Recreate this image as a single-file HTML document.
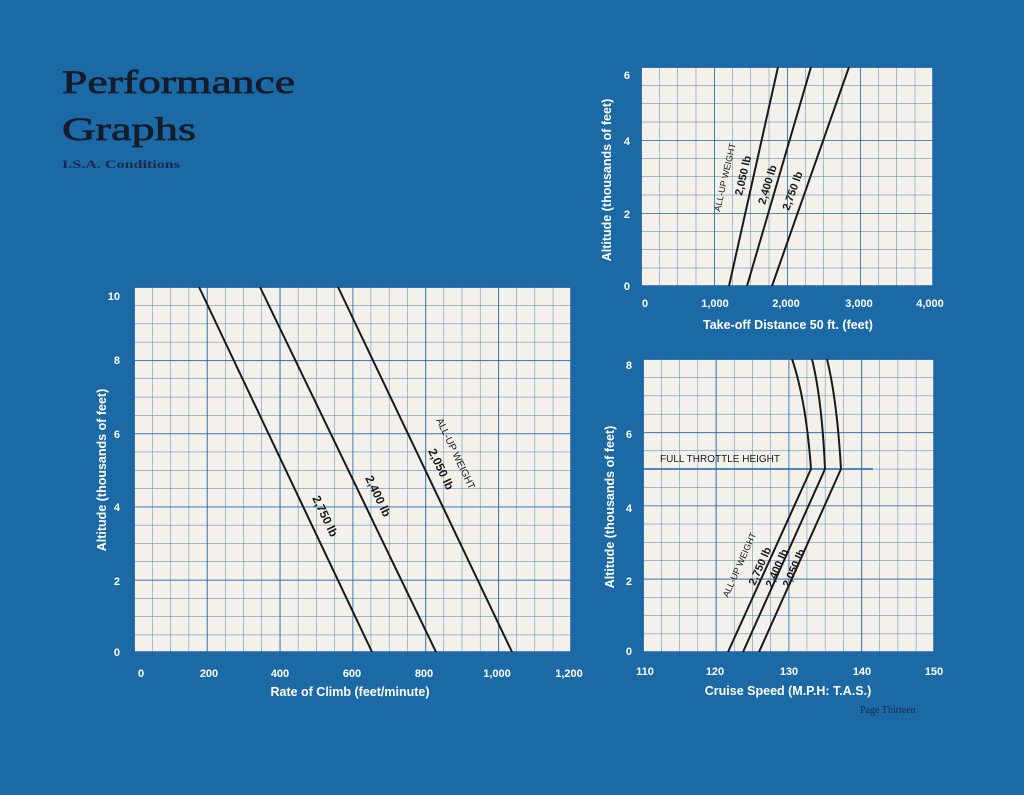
<!DOCTYPE html>
<html><head><meta charset="utf-8"><style>
html,body{margin:0;padding:0;background:#1b6aa6;}
svg{display:block}
</style></head><body>
<svg width="1024" height="795" viewBox="0 0 1024 795" xmlns="http://www.w3.org/2000/svg">
<defs>
<pattern id="mA" x="134" y="287" width="18.208" height="18.3" patternUnits="userSpaceOnUse"><path d="M0 0V18.3M0 0H18.208" stroke="#3d7fbc" stroke-width="0.9" fill="none"/></pattern>
<pattern id="MA" x="134" y="287" width="72.83" height="73.2" patternUnits="userSpaceOnUse"><path d="M0 0V73.2M0 0H72.83" stroke="#1e64a8" stroke-width="1.6" fill="none"/></pattern>
<pattern id="mB" x="641" y="67" width="18.25" height="18.25" patternUnits="userSpaceOnUse"><path d="M0 0V18.25M0 0H18.25" stroke="#3d7fbc" stroke-width="0.9" fill="none"/></pattern>
<pattern id="MB" x="641" y="67" width="73" height="73" patternUnits="userSpaceOnUse"><path d="M0 0V73M0 0H73" stroke="#1e64a8" stroke-width="1.6" fill="none"/></pattern>
<pattern id="mC" x="643" y="359" width="18.19" height="18.31" patternUnits="userSpaceOnUse"><path d="M0 0V18.31M0 0H18.19" stroke="#3d7fbc" stroke-width="0.9" fill="none"/></pattern>
<pattern id="MC" x="643" y="359" width="72.75" height="73.25" patternUnits="userSpaceOnUse"><path d="M0 0V73.25M0 0H72.75" stroke="#1e64a8" stroke-width="1.6" fill="none"/></pattern>
</defs>
<rect width="1024" height="795" fill="#1b6aa6"/>
<!-- Title -->
<g font-family="Liberation Serif, serif" fill="#141c2c" stroke="#141c2c" stroke-width="0.7">
<text x="62" y="93" font-size="33" textLength="233" lengthAdjust="spacingAndGlyphs">Performance</text>
<text x="62" y="140" font-size="33" textLength="134" lengthAdjust="spacingAndGlyphs">Graphs</text>
<text x="62" y="168" font-size="12" fill="#1b2a4a" stroke="none" font-weight="bold" textLength="118" lengthAdjust="spacingAndGlyphs">I.S.A.  Conditions</text>
</g>

<!-- Left graph -->
<rect x="134" y="287" width="437" height="365" fill="#f4f0ea"/>
<rect x="134" y="287" width="437" height="365" fill="url(#mA)"/>
<rect x="134" y="287" width="437" height="365" fill="url(#MA)"/>
<rect x="134" y="287" width="437" height="365" fill="none" stroke="#1e64a8" stroke-width="1.5"/>
<g stroke="#1a1a1a" stroke-width="2" fill="none">
<line x1="199" y1="287" x2="372" y2="652"/>
<line x1="260" y1="287" x2="436" y2="652"/>
<line x1="338" y1="287" x2="512" y2="652"/>
</g>
<g font-family="Liberation Sans, sans-serif" fill="#1a1a1a">
<text transform="translate(312,498) rotate(64.5)" font-size="12" font-weight="bold">2,750 lb</text>
<text transform="translate(365,478) rotate(64.5)" font-size="12" font-weight="bold">2,400 lb</text>
<text transform="translate(428,451) rotate(64.5)" font-size="12" font-weight="bold">2,050 lb</text>
<text transform="translate(436,420) rotate(64.5)" font-size="10">ALL-UP WEIGHT</text>
</g>
<g font-family="Liberation Sans, sans-serif" font-weight="bold" fill="#ffffff" font-size="11">
<text x="120" y="300" text-anchor="end">10</text>
<text x="120" y="364" text-anchor="end">8</text>
<text x="120" y="438" text-anchor="end">6</text>
<text x="120" y="511" text-anchor="end">4</text>
<text x="120" y="585" text-anchor="end">2</text>
<text x="120" y="656" text-anchor="end">0</text>
<text x="141" y="677" text-anchor="middle">0</text>
<text x="209" y="677" text-anchor="middle">200</text>
<text x="280" y="677" text-anchor="middle">400</text>
<text x="352" y="677" text-anchor="middle">600</text>
<text x="424" y="677" text-anchor="middle">800</text>
<text x="497" y="677" text-anchor="middle">1,000</text>
<text x="569" y="677" text-anchor="middle">1,200</text>
<text x="350" y="696" text-anchor="middle" font-size="12.5">Rate of Climb (feet/minute)</text>
<text transform="translate(106,470) rotate(-90)" text-anchor="middle" font-size="12.5">Altitude (thousands of feet)</text>
</g>

<!-- Top right graph -->
<rect x="641" y="67" width="292" height="219" fill="#f4f0ea"/>
<rect x="641" y="67" width="292" height="219" fill="url(#mB)"/>
<rect x="641" y="67" width="292" height="219" fill="url(#MB)"/>
<rect x="641" y="67" width="292" height="219" fill="none" stroke="#1e64a8" stroke-width="1.5"/>
<g stroke="#1a1a1a" stroke-width="2" fill="none">
<line x1="729" y1="286" x2="778" y2="67"/>
<line x1="747" y1="286" x2="811" y2="67"/>
<line x1="772" y1="286" x2="849" y2="67"/>
</g>
<g font-family="Liberation Sans, sans-serif" fill="#1a1a1a">
<text transform="translate(720,212) rotate(-77)" font-size="9">ALL-UP WEIGHT</text>
<text transform="translate(742,196) rotate(-77)" font-size="11" font-weight="bold">2,050 lb</text>
<text transform="translate(765,205) rotate(-73)" font-size="11" font-weight="bold">2,400 lb</text>
<text transform="translate(789,211) rotate(-70)" font-size="11" font-weight="bold">2,750 lb</text>
</g>
<g font-family="Liberation Sans, sans-serif" font-weight="bold" fill="#ffffff" font-size="11">
<text x="630" y="79" text-anchor="end">6</text>
<text x="630" y="145" text-anchor="end">4</text>
<text x="630" y="218" text-anchor="end">2</text>
<text x="630" y="290" text-anchor="end">0</text>
<text x="645" y="307" text-anchor="middle">0</text>
<text x="715" y="307" text-anchor="middle">1,000</text>
<text x="786" y="307" text-anchor="middle">2,000</text>
<text x="859" y="307" text-anchor="middle">3,000</text>
<text x="930" y="307" text-anchor="middle">4,000</text>
<text x="788" y="329" text-anchor="middle" font-size="12.5">Take-off Distance 50 ft. (feet)</text>
<text transform="translate(611,180) rotate(-90)" text-anchor="middle" font-size="12.5">Altitude (thousands of feet)</text>
</g>

<!-- Bottom right graph -->
<rect x="643" y="359" width="291" height="293" fill="#f4f0ea"/>
<rect x="643" y="359" width="291" height="293" fill="url(#mC)"/>
<rect x="643" y="359" width="291" height="293" fill="url(#MC)"/>
<rect x="643" y="359" width="291" height="293" fill="none" stroke="#1e64a8" stroke-width="1.5"/>
<line x1="643" y1="469" x2="873" y2="469" stroke="#1e64a8" stroke-width="1.4"/>
<g stroke="#1a1a1a" stroke-width="2" fill="none">
<path d="M728 652 L811 469 Q806 400 792 359"/>
<path d="M743 652 L825 469 Q822 400 812 359"/>
<path d="M759 652 L841 469 Q837 400 827 359"/>
</g>
<g font-family="Liberation Sans, sans-serif" fill="#1a1a1a">
<text x="660" y="462" font-size="10">FULL THROTTLE HEIGHT</text>
<text transform="translate(728,598) rotate(-66)" font-size="9">ALL-UP WEIGHT</text>
<text transform="translate(755,586) rotate(-66)" font-size="11" font-weight="bold">2,750 lb</text>
<text transform="translate(772,588) rotate(-66)" font-size="11" font-weight="bold">2,400 lb</text>
<text transform="translate(789,588) rotate(-66)" font-size="11" font-weight="bold">2,050 lb</text>
</g>
<g font-family="Liberation Sans, sans-serif" font-weight="bold" fill="#ffffff" font-size="11">
<text x="632" y="369" text-anchor="end">8</text>
<text x="632" y="438" text-anchor="end">6</text>
<text x="632" y="512" text-anchor="end">4</text>
<text x="632" y="585" text-anchor="end">2</text>
<text x="632" y="655" text-anchor="end">0</text>
<text x="645" y="675" text-anchor="middle">110</text>
<text x="715" y="675" text-anchor="middle">120</text>
<text x="789" y="675" text-anchor="middle">130</text>
<text x="862" y="675" text-anchor="middle">140</text>
<text x="934" y="675" text-anchor="middle">150</text>
<text x="788" y="695" text-anchor="middle" font-size="12.5">Cruise Speed (M.P.H: T.A.S.)</text>
<text transform="translate(614,507) rotate(-90)" text-anchor="middle" font-size="12.5">Altitude (thousands of feet)</text>
</g>
<text x="860" y="713" font-family="Liberation Serif, serif" font-size="10" fill="#1b2a4a">Page  Thirteen</text>
</svg>
</body></html>
